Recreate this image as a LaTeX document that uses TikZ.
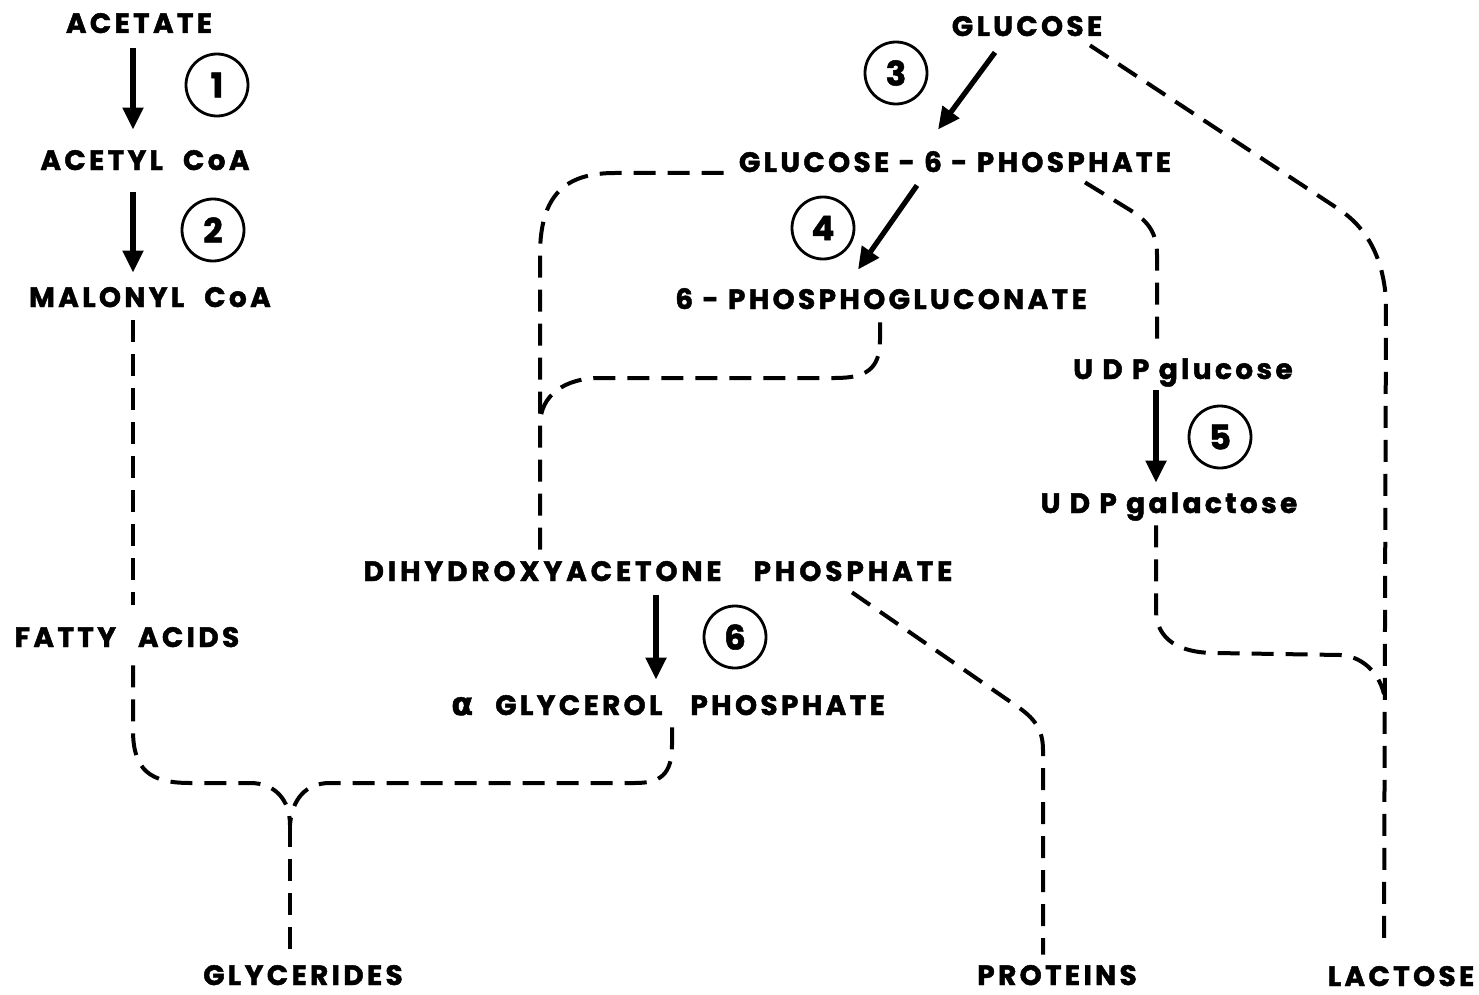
\documentclass[tikz,border=0pt]{standalone}
\usepackage{fontspec}
\setmainfont{Poppins}
\newfontfamily\lblfont{Poppins}[LetterSpace=12, BoldFeatures={FakeBold=1.6}]
\newfontfamily\numfontfam{Poppins}[BoldFeatures={FakeBold=1.5}]
\newfontfamily\greekfont{DejaVu Sans}[BoldFeatures={FakeBold=1.5}]
\usetikzlibrary{arrows.meta}
\tikzset{
  lbl/.style={font=\lblfont\bfseries\fontsize{14}{16}\selectfont, inner sep=0pt, text height=9pt, text depth=0pt},
  num/.style={circle, draw, line width=1.4pt, minimum size=31pt, inner sep=0pt, font=\numfontfam\bfseries\fontsize{17}{19}\selectfont},
  arr/.style={line width=2.6pt, -{Triangle[length=11pt,width=10pt]}},
  dsh/.style={line width=2pt, dash pattern=on 11pt off 6pt}
}
\begin{document}
\begin{tikzpicture}[x=0.5pt,y=-0.5pt]
\useasboundingbox[fill=white] (0,0) rectangle (1479,995);
% labels
\node[lbl] (acetate) at (139,24) {ACETATE};
\node[lbl] (acetyl) at (145,161) {ACETYL\hspace{10pt}CoA};
\node[lbl] (malonyl) at (150,298) {MALONYL\hspace{10pt}CoA};
\node[lbl] (fatty) at (127,638) {FATTY\hspace{11pt}ACIDS};
\node[lbl] (glycerides) at (303,976) {GLYCERIDES};
\node[lbl] (glucose) at (1027,27) {GLUCOSE};
\node[lbl] (g6p) at (955,163) {GLUCOSE - 6 - PHOSPHATE};
\node[lbl] (pg) at (881,300) {6 - PHOSPHOGLUCONATE};
\node[lbl] (udpglc) at (1183,370) {U D P glucose};
\node[lbl] (udpgal) at (1169,504) {U D P galactose};
\node[lbl] (dhap) at (658,572) {\addfontfeature{LetterSpace=14}DIHYDROXYACETONE\hspace{16pt}PHOSPHATE};
\node[lbl] (agp) at (668,706) {{\greekfont\fontsize{16}{18}\selectfont α}\hspace{11pt}GLYCEROL\hspace{14pt}PHOSPHATE};
\node[lbl] (proteins) at (1057,976) {PROTEINS};
\node[lbl] (lactose) at (1401,977) {LACTOSE};
% circled numbers
\node[num] (c1) at (217,85) {1};
\node[num] (c2) at (213,230) {2};
\node[num] (c3) at (896,73) {3};
\node[num] (c4) at (823,228) {4};
\node[num] (c5) at (1220,437) {5};
\node[num] (c6) at (735,637) {6};
% solid arrows
\draw[arr] ([shift={(-6,15)}]acetate.south) -- ([shift={(-12,-22)}]acetyl.north);
\draw[arr] ([shift={(-12,22)}]acetyl.south) -- ([shift={(-17,-16)}]malonyl.north);
\draw[arr] ([shift={(-32,16)}]glucose.south) -- ([shift={(-17,-24)}]g6p.north);
\draw[arr] ([shift={(-38,13)}]g6p.south) -- ([shift={(-23,-21)}]pg.north);
\draw[arr] ([shift={(-27,11)}]udpglc.south) -- ([shift={(-13,-12)}]udpgal.north);
\draw[arr] ([shift={(-2,14)}]dhap.south) -- ([shift={(-12,-17)}]agp.north);
% junction coordinates
\coordinate (jn) at (290,825);
\coordinate (jl) at (540,425);
\coordinate (jlac) at (1384,694);
% dashed connectors
\draw[dsh] ([shift={(-17,13)}]malonyl.south) -- ([shift={(6,-24)}]fatty.north);
\draw[dsh] ([shift={(6,18)}]fatty.south) -- (133,730) .. controls (133,770) and (150,783) .. (190,783)
   -- (250,783) .. controls (275,783) and (290,800) .. (jn);
\draw[dsh] ([shift={(4,12)}]agp.south) -- (672,745) .. controls (672,775) and (660,783) .. (635,783)
   -- (330,783) .. controls (305,783) and (292,800) .. (jn);
\draw[dsh] (jn) -- ([shift={(-13,-6)}]glycerides.north);
\draw[dsh] ([shift={(-118,-13)}]dhap.north) -- (540,255) .. controls (540,195) and (565,173) .. (615,173)
   -- ([shift={(-220,10)}]g6p.center);
\draw[dsh] ([shift={(-1,13)}]pg.south) -- (880,340) .. controls (880,370) and (865,378) .. (835,378)
   -- (600,378) .. controls (565,378) and (540,395) .. (jl);
\draw[dsh] ([shift={(130,10)}]g6p.south) -- (1130,210) .. controls (1150,222) and (1157,235) .. (1157,255)
   -- ([shift={(-26,-16)}]udpglc.north);
\draw[dsh] ([shift={(63,9)}]glucose.south) -- (1340,210) .. controls (1365,227) and (1383,255) .. (1386,300)
   -- ([shift={(-17,-18)}]lactose.north);
\draw[dsh] ([shift={(-13,12)}]udpgal.south) -- (1156,610) .. controls (1156,640) and (1180,653) .. (1215,653)
   -- (1340,655) .. controls (1360,656) and (1378,670) .. (jlac);
\draw[dsh] ([shift={(194,11)}]dhap.south) -- (1015,705) .. controls (1035,718) and (1043,730) .. (1043,750)
   -- ([shift={(-14,-12)}]proteins.north);
\end{tikzpicture}
\end{document}
